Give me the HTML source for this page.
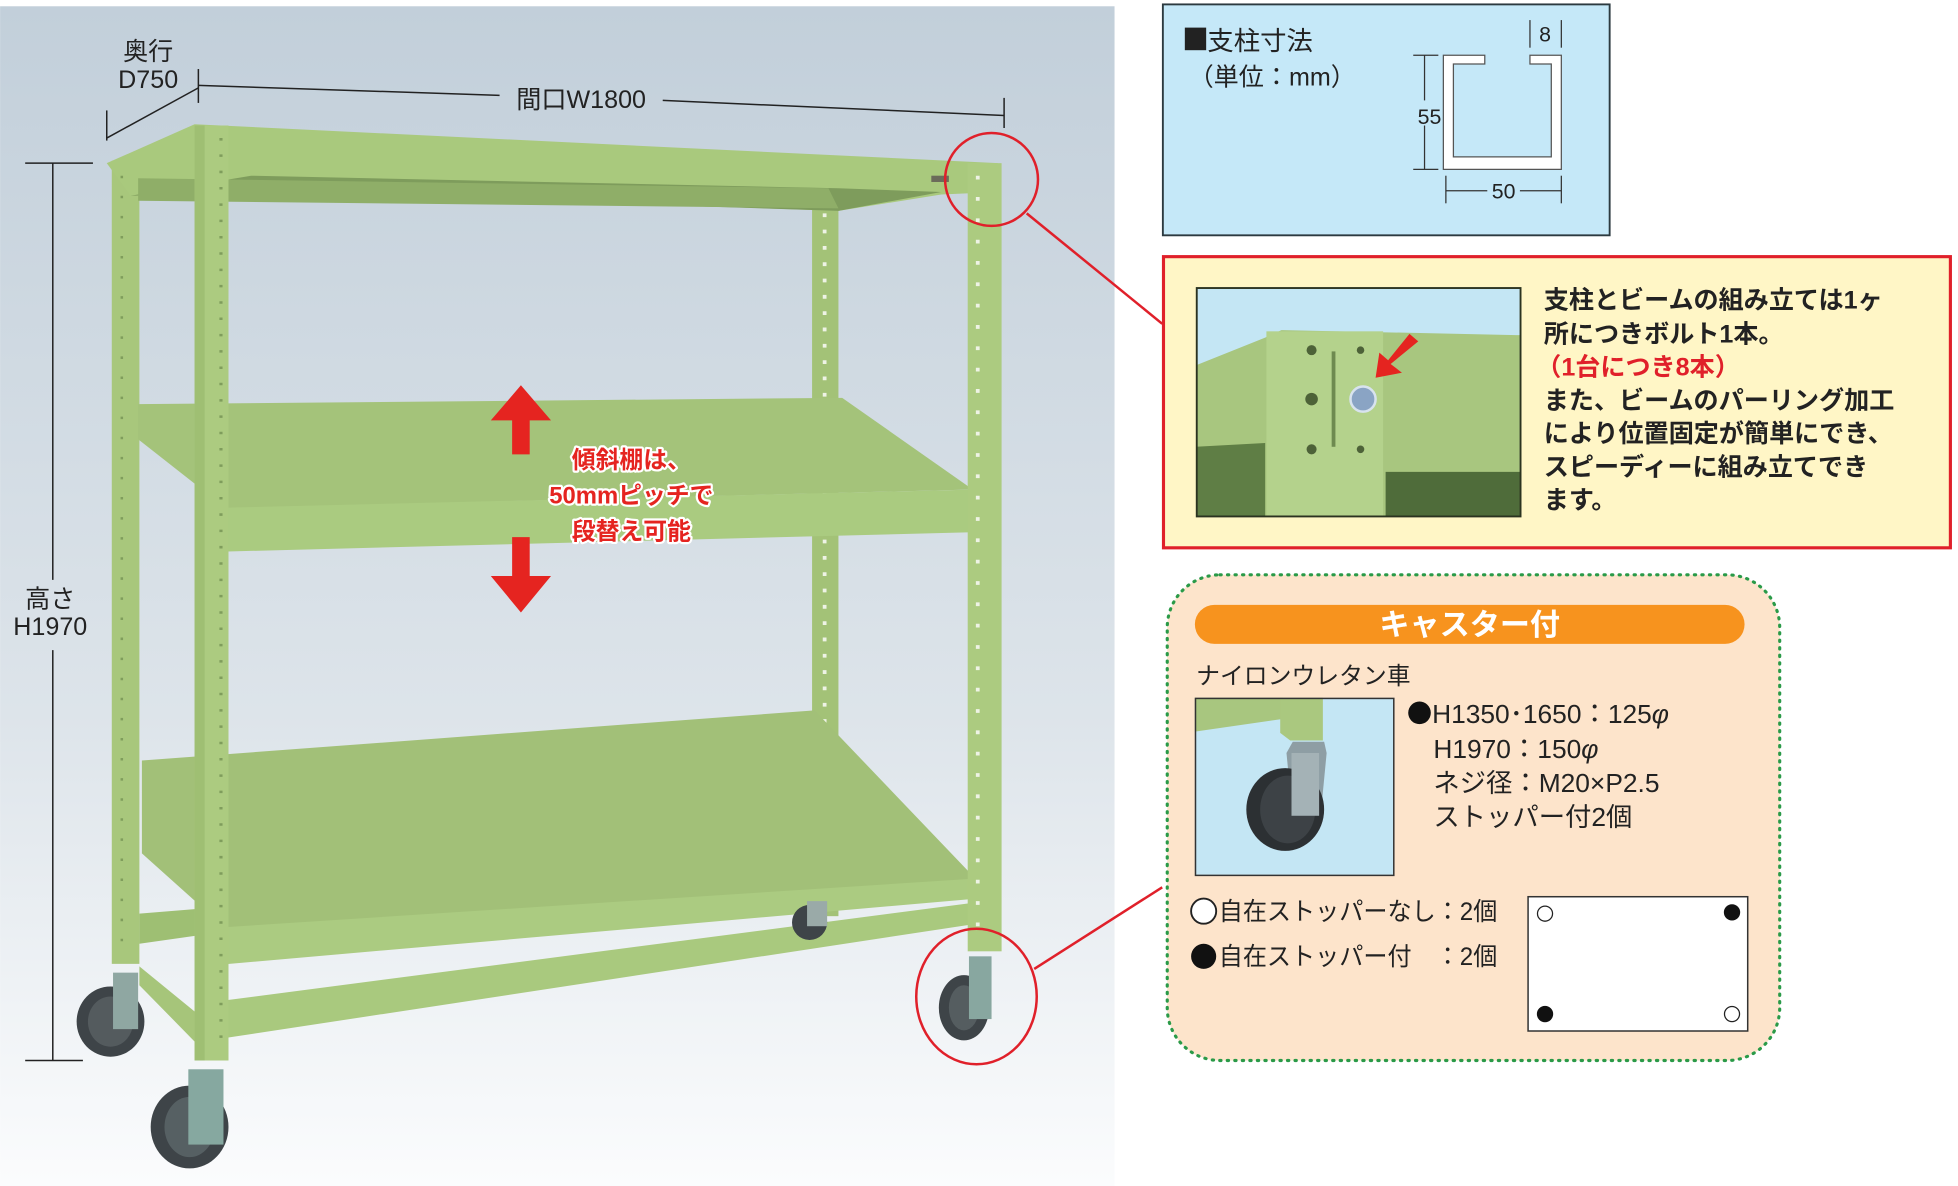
<!DOCTYPE html>
<html><head><meta charset="utf-8"><style>
html,body{margin:0;padding:0;background:#fff;}
svg{display:block;}
text{font-family:"Liberation Sans","Noto Sans CJK JP",sans-serif;}
</style></head><body>
<svg width="1958" height="1186" viewBox="0 0 1560 945" xmlns="http://www.w3.org/2000/svg">
<defs>
<linearGradient id="bg" x1="0" y1="0" x2="0" y2="1">
<stop offset="0" stop-color="#c2cfda"/><stop offset="0.6" stop-color="#dde4ea"/><stop offset="1" stop-color="#fbfcfd"/>
</linearGradient>
</defs>
<rect width="1560" height="945" fill="#fff"/>
<rect x="0" y="5" width="888" height="940" fill="url(#bg)"/>

<rect x="89" y="128" width="22" height="640" fill="#a8c77c"/>
<rect x="647" y="160" width="21" height="570" fill="#a3c277"/>
<line x1="657" y1="170" x2="657" y2="720" stroke="#eef3e5" stroke-width="3" stroke-dasharray="3,10"/>
<polygon points="85,130 155,99 795,130 795,153 750,155 668,168 200,152 104,156" fill="#a9c97d"/>
<polygon points="104,156 200,140 668,150 750,153 668,168 200,153" fill="#7e9c5c"/>
<polygon points="110,142 660,150 668,166 110,160" fill="#8fae68"/>
<rect x="742" y="140" width="14" height="5" fill="#6b6b5a"/>
<polygon points="110,322 671,317 775,390 180,405 110,350" fill="#a4c37a"/>
<polygon points="160,405 778,390 778,424 160,440" fill="#aacb80"/>
<polygon points="113,606 649,566 778,701 180,740 113,680" fill="#a2c078"/>
<polygon points="160,740 778,700 778,716 160,770" fill="#abcb81"/>
<polygon points="111,728 160,724 160,745 111,752" fill="#9ebf73"/>
<polygon points="180,797 778,719 778,736 180,827" fill="#a9c97e"/>
<polygon points="111,770 160,810 160,835 111,785" fill="#a6c57a"/>
<rect x="155" y="100" width="27" height="745" fill="#accb80"/>
<rect x="155" y="100" width="8" height="745" fill="#9fbf73"/>
<line x1="176" y1="110" x2="176" y2="830" stroke="#7f9d5c" stroke-width="2.5" stroke-dasharray="2,11"/>
<rect x="771" y="130" width="27" height="628" fill="#accb80"/>
<line x1="779" y1="140" x2="779" y2="740" stroke="#eef3e5" stroke-width="3" stroke-dasharray="3,14"/>
<line x1="97" y1="140" x2="97" y2="750" stroke="#7f9d5c" stroke-width="2" stroke-dasharray="2,14"/>

<g>
<ellipse cx="88" cy="814" rx="27" ry="28" fill="#3e4448"/><ellipse cx="88" cy="814" rx="18" ry="20" fill="#545b5e"/>
<rect x="90" y="775" width="20" height="45" fill="#8fa7a2"/>
<ellipse cx="151" cy="898" rx="31" ry="33" fill="#3e4448"/><ellipse cx="151" cy="898" rx="20" ry="24" fill="#566063"/>
<rect x="150" y="852" width="28" height="60" fill="#86a8a0"/>
<ellipse cx="645" cy="735" rx="14" ry="14" fill="#3e4448"/><rect x="643" y="718" width="16" height="20" fill="#9aaaa8"/>
<ellipse cx="768" cy="803" rx="20" ry="26" fill="#3e4448"/><ellipse cx="768" cy="803" rx="12" ry="18" fill="#555d60"/>
<rect x="772" y="762" width="18" height="50" fill="#88a7a0"/>
</g>

<g stroke="#222" stroke-width="1.2" fill="none">
<line x1="42" y1="130" x2="42" y2="462"/><line x1="42" y1="518" x2="42" y2="845"/>
<line x1="20" y1="130" x2="74" y2="130"/><line x1="20" y1="845" x2="66" y2="845"/>
<line x1="85" y1="110" x2="158" y2="70"/><line x1="85" y1="88" x2="85" y2="112"/><line x1="158" y1="55" x2="158" y2="82"/>
<line x1="158" y1="68" x2="398" y2="76"/><line x1="528" y1="80" x2="800" y2="92"/><line x1="800" y1="78" x2="800" y2="102"/>
</g>
<g fill="#222" font-size="20" text-anchor="middle">
<text x="118" y="48">奥行</text><text x="118" y="70">D750</text>
<text x="463" y="86">間口W1800</text>
<text x="40" y="484">高さ</text><text x="40" y="506">H1970</text>
</g>

<g fill="#e52420">
<polygon points="415,307 439,335 422,335 422,362 408,362 408,335 391,335"/>
<polygon points="415,488 439,459 422,459 422,428 408,428 408,459 391,459"/>
</g>
<g font-size="19" font-weight="bold" text-anchor="middle" fill="#e52420" stroke="#fff" stroke-width="3.5" paint-order="stroke" stroke-linejoin="round">
<text x="503" y="373">傾斜棚は、</text><text x="503" y="401">50mmピッチで</text><text x="503" y="430">段替え可能</text>
</g>

<g stroke="#e0202a" stroke-width="2" fill="none">
<circle cx="790" cy="143" r="37"/>
<line x1="818" y1="170" x2="926" y2="258"/>
<ellipse cx="778" cy="794" rx="48" ry="54"/>
<line x1="824" y1="772" x2="926" y2="707"/>
</g>

<rect x="926.5" y="3.5" width="356" height="184" fill="#c5e8f8" stroke="#2c3a40" stroke-width="1.5"/>
<rect x="944" y="22" width="17" height="18" fill="#222"/>
<text x="962" y="40" font-size="21" fill="#222">支柱寸法</text>
<text x="947" y="68" font-size="20" fill="#222">（単位：mm）</text>
<path d="M1150,44 H1183 V51 H1158 V125 H1236 V51 H1219 V44 H1244 V135 H1150 Z" fill="#fff" stroke="#555" stroke-width="1"/>
<g stroke="#333" stroke-width="1">
<line x1="1135" y1="44" x2="1135" y2="80"/><line x1="1135" y1="100" x2="1135" y2="135"/>
<line x1="1126" y1="44" x2="1146" y2="44"/><line x1="1126" y1="135" x2="1146" y2="135"/>
<line x1="1152" y1="140" x2="1152" y2="162"/><line x1="1244" y1="140" x2="1244" y2="162"/>
<line x1="1152" y1="152" x2="1185" y2="152"/><line x1="1211" y1="152" x2="1244" y2="152"/>
<line x1="1219" y1="16" x2="1219" y2="38"/><line x1="1244" y1="16" x2="1244" y2="38"/>
</g>
<text x="1139" y="99" font-size="17" fill="#222" text-anchor="middle">55</text>
<text x="1198" y="158" font-size="17" fill="#222" text-anchor="middle">50</text>
<text x="1231" y="33" font-size="17" fill="#222" text-anchor="middle">8</text>

<rect x="927" y="204.5" width="627" height="232" fill="#fff6c6" stroke="#e0202a" stroke-width="2.5"/>
<g>
<rect x="953" y="229" width="258" height="182" fill="#c4e6f4"/>
<polygon points="953,291 1008,269 1021,263 1208,267 1211,267 1211,411 953,411" fill="#a8c67f"/>
<rect x="1009" y="264" width="93" height="147" fill="#b4d28c"/>
<polygon points="953,356 1008,353 1008,411 953,411" fill="#5f7e45"/>
<polygon points="1104,376 1211,376 1211,411 1104,411" fill="#4f6c3a"/>
<rect x="1061" y="280" width="3" height="76" fill="#6e8a50"/>
<g fill="#4d6238"><circle cx="1045" cy="279" r="4"/><circle cx="1045" cy="318" r="5"/><circle cx="1045" cy="358" r="4"/><circle cx="1084" cy="279" r="3"/><circle cx="1084" cy="358" r="3"/></g>
<circle cx="1086" cy="318" r="10" fill="#8aa4c4" stroke="#d8e3ee" stroke-width="2"/>
<polygon points="1123,266 1130,272 1108,290 1117,297 1096,301 1099,281 1106,287" fill="#e52420"/>
<rect x="953.5" y="229.5" width="258" height="182" fill="none" stroke="#2b3320" stroke-width="1.5"/>
</g>
<g font-size="20" fill="#222" font-weight="bold">
<text x="1230" y="246">支柱とビームの組み立ては1ヶ</text>
<text x="1230" y="273">所につきボルト1本。</text>
<text x="1224" y="299" fill="#e0202a">（1台につき8本）</text>
<text x="1230" y="326">また、ビームのパーリング加工</text>
<text x="1230" y="352">により位置固定が簡単にでき、</text>
<text x="1230" y="379">スピーディーに組み立てでき</text>
<text x="1230" y="405">ます。</text>
</g>

<rect x="930" y="458" width="488" height="387" rx="42" fill="#fde4cb" stroke="#2a9a48" stroke-width="2.5" stroke-dasharray="1,5" stroke-linecap="round"/>
<rect x="952" y="482" width="438" height="31" rx="15.5" fill="#f7931e"/>
<text x="1171" y="506" font-size="24" font-weight="bold" fill="#fff" text-anchor="middle">キャスター付</text>
<text x="953" y="545" font-size="19" fill="#222">ナイロンウレタン車</text>
<g>
<rect x="952" y="556" width="158" height="141" fill="#c4e6f4"/>
<polygon points="952,556 1022,556 1021,573 952,583" fill="#a8c67f"/>
<polygon points="1020,556 1054,556 1054,590 1028,590 1020,584" fill="#aac87f"/>
<polygon points="1025,600 1030,591 1055,591 1057,600 1052,652 1030,652" fill="#8e9ea4"/>
<ellipse cx="1024" cy="645" rx="31" ry="33" fill="#2c3033"/>
<ellipse cx="1026" cy="645" rx="22" ry="27" fill="#3d4246"/>
<rect x="1029" y="600" width="22" height="50" fill="#a4b2b6"/>
<rect x="952.5" y="556.5" width="158" height="141" fill="none" stroke="#333" stroke-width="1.2"/>
</g>
<circle cx="1131" cy="568" r="9" fill="#111"/>
<circle cx="959" cy="726" r="10" fill="#fff" stroke="#222" stroke-width="1.5"/>
<circle cx="959" cy="762" r="10" fill="#111"/>
<g font-size="21" fill="#222">
<text x="1141" y="576">H1350･1650：125<tspan font-style="italic">φ</tspan></text>
<text x="1142" y="604">H1970：150<tspan font-style="italic">φ</tspan></text>
<text x="1142" y="631">ネジ径：M20×P2.5</text>
<text x="1142" y="658">ストッパー付2個</text>
</g>
<g font-size="20" fill="#222">
<text x="971" y="733" textLength="222" lengthAdjust="spacingAndGlyphs">自在ストッパーなし：2個</text>
<text x="971" y="769" textLength="222" lengthAdjust="spacingAndGlyphs">自在ストッパー付　：2個</text>
</g>
<rect x="1217.5" y="714.5" width="175" height="107" fill="#fff" stroke="#333" stroke-width="1.2"/>
<circle cx="1231" cy="728" r="6" fill="#fff" stroke="#222" stroke-width="1"/>
<circle cx="1380" cy="727" r="6.5" fill="#111"/>
<circle cx="1231" cy="808" r="6.5" fill="#111"/>
<circle cx="1380" cy="808" r="6" fill="#fff" stroke="#222" stroke-width="1"/>
</svg>
</body></html>
